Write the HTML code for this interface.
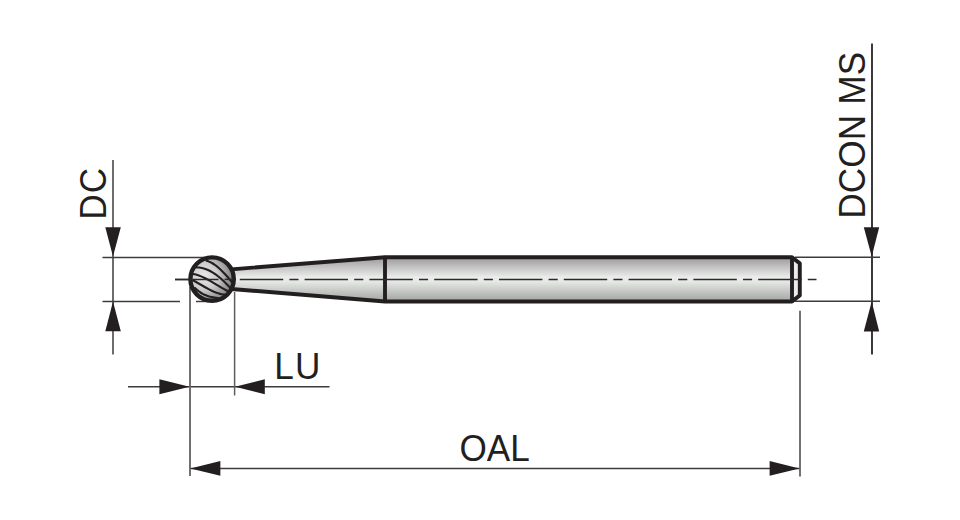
<!DOCTYPE html>
<html><head><meta charset="utf-8">
<style>
html,body{margin:0;padding:0;background:#fff;width:960px;height:520px;overflow:hidden}
svg{display:block}
text{font-family:"Liberation Sans",sans-serif;fill:#231f20}
</style></head>
<body>
<svg width="960" height="520" viewBox="0 0 960 520">
<defs>
<linearGradient id="cyl" x1="0" y1="0" x2="0" y2="1">
<stop offset="0" stop-color="#9a9a9a"/>
<stop offset="0.45" stop-color="#ececec"/>
<stop offset="0.55" stop-color="#e6e8e6"/>
<stop offset="1" stop-color="#a2a4a2"/>
</linearGradient>
<linearGradient id="neck" x1="0" y1="0" x2="0" y2="1">
<stop offset="0" stop-color="#9a9a9a"/>
<stop offset="0.45" stop-color="#ececec"/>
<stop offset="0.55" stop-color="#e6e8e6"/>
<stop offset="1" stop-color="#a2a4a2"/>
</linearGradient>
<radialGradient id="ball" gradientUnits="userSpaceOnUse" cx="204" cy="276" r="30">
<stop offset="0" stop-color="#e8e8e8"/>
<stop offset="0.45" stop-color="#cccccc"/>
<stop offset="1" stop-color="#7a7a7a"/>
</radialGradient>
<clipPath id="ballclip"><circle cx="212.1" cy="279.1" r="21"/></clipPath>
</defs>

<!-- thin dimension / extension lines -->
<g stroke="#3c3c3c" stroke-width="1.45" fill="none">
  <!-- DC -->
  <line x1="113" y1="160" x2="113" y2="354.5" stroke="#2e2e2e" stroke-width="1.4"/>
  <line x1="102.5" y1="257.5" x2="205" y2="257.5"/>
  <line x1="102.5" y1="301.5" x2="180" y2="301.5"/>
  <line x1="196" y1="301.5" x2="210" y2="301.5"/>
  <!-- DCON MS -->
  <line x1="872" y1="43.5" x2="872" y2="354.5" stroke="#242424" stroke-width="1.8"/>
  <line x1="795" y1="257.3" x2="880" y2="257.3"/>
  <line x1="795" y1="301.2" x2="880" y2="301.2"/>
  <!-- LU -->
  <line x1="128" y1="386.8" x2="329.5" y2="386.8"/>
  <!-- OAL -->
  <line x1="190" y1="468.5" x2="800" y2="468.5"/>
</g>
<g stroke="#5e5e5e" stroke-width="1.5" fill="none">
  <line x1="190" y1="287" x2="190" y2="476" stroke="#6a6a6a" stroke-width="1.9"/>
  <line x1="234.6" y1="292" x2="234.6" y2="395.5"/>
  <line x1="800" y1="310.8" x2="800" y2="476.5" stroke="#6a6a6a" stroke-width="1.9"/>
</g>

<!-- arrows -->
<g fill="#231f20">
  <polygon points="105.3,227.2 120.8,227.2 113,256.5"/>
  <polygon points="105.3,331.2 120.8,331.2 113,301.5"/>
  <polygon points="863.8,227.3 879.2,227.3 871.7,256.5"/>
  <polygon points="863.8,331.5 879.2,331.5 871.7,301.5"/>
  <polygon points="159.4,379.2 159.4,394.2 189.5,386.8"/>
  <polygon points="264.8,379.2 264.8,394.2 235,386.8"/>
  <polygon points="220.4,461 220.4,475.8 190.3,468.4"/>
  <polygon points="769.6,461 769.6,475.8 799.5,468.4"/>
</g>

<!-- shank -->
<path d="M228,269.6 L385,257.3 L792,257.3 L799.8,263.4 L799.8,295.4 L792,301.5 L385,301.5 L228,288.7 Z" fill="url(#cyl)"/>
<path d="M792,257.3 L799.8,263.4 L799.8,295.4 L792,301.5 Z" fill="#ececec"/>
<g stroke="#231f20" fill="none" stroke-linejoin="round">
<path d="M228,269.6 L385,257.3 L792,257.3 L799.8,263.4 L799.8,295.4 L792,301.5 L385,301.5 L228,288.7" stroke-width="3.9"/>
<line x1="385" y1="257.3" x2="385" y2="301.5" stroke-width="3.9"/>
<line x1="792" y1="257.3" x2="792" y2="301.5" stroke-width="3.9"/>
</g>

<!-- center line -->
<line x1="175" y1="279.4" x2="816.5" y2="279.4" stroke="#2a2a2a" stroke-width="1.5" stroke-dasharray="43.4 6.2 9.1 6.1"/>

<!-- ball -->
<circle cx="212.1" cy="279.1" r="21.7" fill="url(#ball)" stroke="#231f20" stroke-width="4.4"/>
<g clip-path="url(#ballclip)" stroke="#231f20" stroke-width="2.1" fill="none" stroke-linecap="round" stroke-linejoin="round">
  <path d="M206.50,260.72 L208.46,261.35 L210.42,262.20 L212.38,263.26 L214.35,264.51 L216.31,265.94 L218.27,267.53 L220.23,269.28 L222.19,271.16 L224.15,273.18 L226.12,275.31 L228.08,277.54 L230.04,279.86 L232.00,282.26"/>
  <path d="M196.50,267.49 L199.23,267.57 L201.96,267.98 L204.69,268.70 L207.42,269.73 L210.15,271.03 L212.88,272.61 L215.62,274.43 L218.35,276.50 L221.08,278.78 L223.81,281.28 L226.54,283.96 L229.27,286.82 L232.00,289.84"/>
  <path d="M193.00,273.95 L195.92,274.56 L198.85,275.46 L201.77,276.61 L204.69,277.97 L207.62,279.49 L210.54,281.13 L213.46,282.86 L216.38,284.62 L219.31,286.38 L222.23,288.09 L225.15,289.70 L228.08,291.19 L231.00,292.50"/>
  <path d="M193.00,280.28 L195.62,281.72 L198.23,283.22 L200.85,284.75 L203.46,286.27 L206.08,287.76 L208.69,289.18 L211.31,290.51 L213.92,291.71 L216.54,292.76 L219.15,293.61 L221.77,294.25 L224.38,294.65 L227.00,294.76"/>
  <path d="M195.00,288.09 L196.92,289.88 L198.85,291.42 L200.77,292.73 L202.69,293.83 L204.62,294.76 L206.54,295.53 L208.46,296.17 L210.38,296.70 L212.31,297.14 L214.23,297.53 L216.15,297.88 L218.08,298.22 L220.00,298.57"/>
</g>
<line x1="175" y1="279.4" x2="218.5" y2="279.4" stroke="#2a2a2a" stroke-width="1.5"/>
<line x1="224.6" y1="279.4" x2="233" y2="279.4" stroke="#2a2a2a" stroke-width="1.5"/>

<!-- texts -->
<text transform="translate(106.2,219.8) rotate(-90) scale(0.96,1)" font-size="36.6" letter-spacing="1.2">DC</text>
<text transform="translate(864.5,218.8) rotate(-90) scale(0.96,1)" font-size="36.6" letter-spacing="0.2">DCON MS</text>
<text transform="translate(274.2,379.3) scale(0.96,1)" font-size="36.6" letter-spacing="1.2">LU</text>
<text transform="translate(459.5,461.3) scale(0.96,1)" font-size="36.6">OAL</text>
</svg>
</body></html>
